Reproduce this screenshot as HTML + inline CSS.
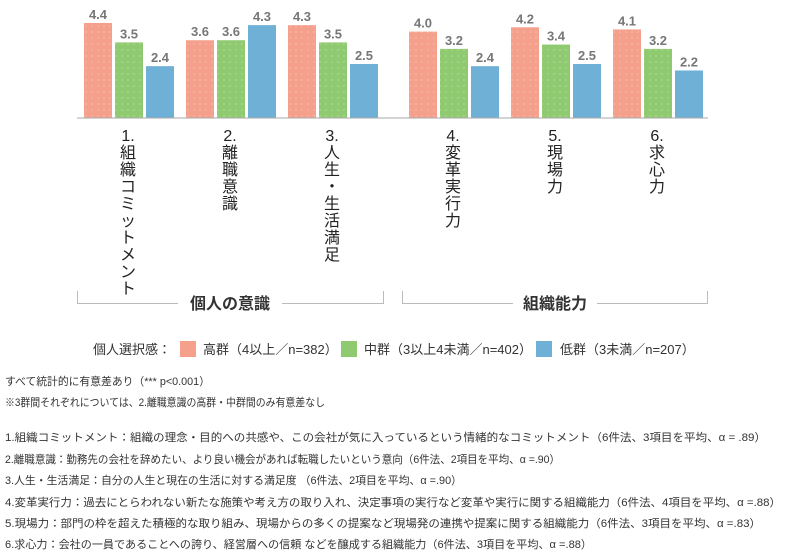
<!DOCTYPE html>
<html><head><meta charset="utf-8"><style>
html,body{margin:0;padding:0;background:#fff;}
svg{display:block;font-family:"Liberation Sans","Noto Sans CJK JP",sans-serif;}
</style></head><body>
<svg id="c" width="790" height="550" viewBox="0 0 790 550">
<defs>
<pattern id="dots" width="6" height="6" patternUnits="userSpaceOnUse"><circle cx="2" cy="2" r="0.6" fill="#fff" opacity="0.5"/></pattern>
</defs>
<g id="bars"></g>
<line x1="77" y1="118" x2="708" y2="118" stroke="#aaa" stroke-width="1"/>
<g id="cats"></g>
<g stroke="#bbb" fill="none">
<polyline points="77.5,291 77.5,303.5 178,303.5"/><polyline points="282,303.5 383.5,303.5 383.5,291"/>
</g>
<text x="230" y="309" text-anchor="middle" font-size="16" font-weight="bold" fill="#333">個人の意識</text>
<g stroke="#bbb" fill="none">
<polyline points="402.5,291 402.5,303.5 513,303.5"/><polyline points="597,303.5 707.5,303.5 707.5,291"/>
</g>
<text x="555" y="309" text-anchor="middle" font-size="16" font-weight="bold" fill="#333">組織能力</text>
<g font-size="13" fill="#333">
<text x="93" y="354">個人選択感：</text>
<rect x="180" y="341" width="16" height="16" fill="#f4a08c"/>
<text x="203" y="354">高群（4以上／n=382）</text>
<rect x="341" y="341" width="16" height="16" fill="#8fca70"/>
<text x="364" y="354">中群（3以上4未満／n=402）</text>
<rect x="536" y="341" width="16" height="16" fill="#6fb0d6"/>
<text x="560" y="354">低群（3未満／n=207）</text>
</g>
<g font-size="11" fill="#333">
<text x="5" y="385" textLength="205" lengthAdjust="spacingAndGlyphs">すべて統計的に有意差あり（*** p&lt;0.001）</text>
<text x="5" y="406" textLength="320" lengthAdjust="spacingAndGlyphs">※3群間それぞれについては、2.離職意識の高群・中群間のみ有意差なし</text>
<text x="5" y="441" textLength="761" lengthAdjust="spacingAndGlyphs">1.組織コミットメント：組織の理念・目的への共感や、この会社が気に入っているという情緒的なコミットメント（6件法、3項目を平均、α = .89）</text>
<text x="5" y="463" textLength="555" lengthAdjust="spacingAndGlyphs">2.離職意識：勤務先の会社を辞めたい、より良い機会があれば転職したいという意向（6件法、2項目を平均、α =.90）</text>
<text x="5" y="484" textLength="457" lengthAdjust="spacingAndGlyphs">3.人生・生活満足：自分の人生と現在の生活に対する満足度 （6件法、2項目を平均、α =.90）</text>
<text x="5" y="506" textLength="776" lengthAdjust="spacingAndGlyphs">4.変革実行力：過去にとらわれない新たな施策や考え方の取り入れ、決定事項の実行など変革や実行に関する組織能力（6件法、4項目を平均、α =.88）</text>
<text x="5" y="527" textLength="756" lengthAdjust="spacingAndGlyphs">5.現場力：部門の枠を超えた積極的な取り組み、現場からの多くの提案など現場発の連携や提案に関する組織能力（6件法、3項目を平均、α =.83）</text>
<text x="5" y="548" textLength="587" lengthAdjust="spacingAndGlyphs">6.求心力：会社の一員であることへの誇り、経営層への信頼 などを醸成する組織能力（6件法、3項目を平均、α =.88）</text>
</g>
</svg>
<script>
const categories = ["1.組織コミットメント","2.離職意識","3.人生・生活満足","4.変革実行力","5.現場力","6.求心力"];
const highValues = [4.4, 3.6, 4.3, 4.0, 4.2, 4.1];
const midValues = [3.5, 3.6, 3.5, 3.2, 3.4, 3.2];
const lowValues = [2.4, 4.3, 2.5, 2.4, 2.5, 2.2];
const seriesNames = ["high","mid","low"];
const colors = ["#f4a08c","#8fca70","#6fb0d6"];

const NS = "http://www.w3.org/2000/svg";
const baseY = 118, unit = 21.6;
function yScale(v){ return baseY - v*unit; }
function groupX(i){ return i < 3 ? 84 + i*102 : 409 + (i-3)*102; }
const barW = 28, step = 31;
const barsG = document.getElementById('bars');
const catsG = document.getElementById('cats');
const all = [highValues, midValues, lowValues];
categories.forEach((cat, i) => {
  all.forEach((vals, s) => {
    const v = vals[i];
    const x = groupX(i) + s*step;
    const r = document.createElementNS(NS,'rect');
    r.setAttribute('x', x); r.setAttribute('y', yScale(v));
    r.setAttribute('width', barW); r.setAttribute('height', baseY - yScale(v));
    r.setAttribute('fill', colors[s]);
    
    
    barsG.appendChild(r);
    if (s < 2) {
      const p = document.createElementNS(NS,'rect');
      p.setAttribute('x', x); p.setAttribute('y', yScale(v));
      p.setAttribute('width', barW); p.setAttribute('height', baseY - yScale(v));
      p.setAttribute('fill', 'url(#dots)');
      
      
      barsG.appendChild(p);
    }
    const t = document.createElementNS(NS,'text');
    t.setAttribute('x', x + barW/2); t.setAttribute('y', yScale(v) - 4);
    t.setAttribute('text-anchor','middle'); t.setAttribute('font-size','13');
    t.setAttribute('font-weight','bold'); t.setAttribute('fill','#777');
    t.textContent = v.toFixed(1);
    
    
    barsG.appendChild(t);
  });
  const cx = groupX(i) + step + barW/2;
  const m = cat.match(/^(\d\.)(.*)$/);
  const chars = [m[1]].concat(Array.from(m[2]));
  const lg = document.createElementNS(NS,'g');
  
  
  chars.forEach((ch, k) => {
    const t = document.createElementNS(NS,'text');
    t.setAttribute('x', cx - 1); t.setAttribute('y', 141 + k*17);
    t.setAttribute('text-anchor','middle'); t.setAttribute('font-size','16');
    t.setAttribute('fill','#222');
    if (ch === 'ー') { t.setAttribute('transform', 'rotate(90 ' + (cx-1) + ' ' + (135 + k*17) + ')'); }
    t.textContent = ch === '・' ? '・' : ch;
    
    
    lg.appendChild(t);
  });
  catsG.appendChild(lg);
});
</script>
</body></html>
